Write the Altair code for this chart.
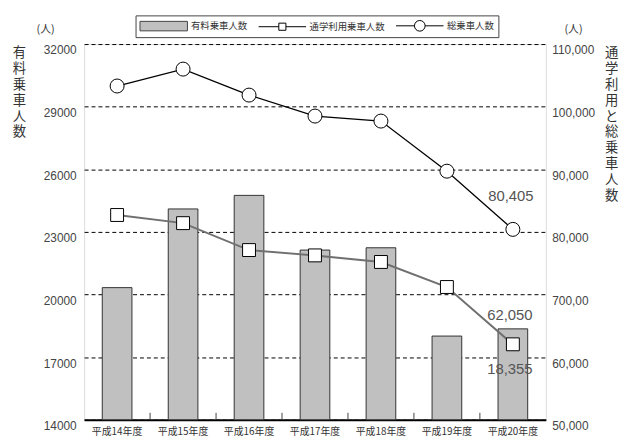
import altair as alt
import pandas as pd

# ---- data ----
years = ['平成14年度', '平成15年度', '平成16年度', '平成17年度', '平成18年度', '平成19年度', '平成20年度']
paid = [20330, 24100, 24750, 22130, 22240, 18010, 18355]          # 有料乗車人数 (left axis)
school = [82700, 81400, 77100, 76250, 75200, 71200, 62050]        # 通学利用乗車人数 (right axis)
total = [103300, 106000, 101850, 98500, 97700, 89700, 80405]      # 総乗車人数 (right axis)
series_names = ['有料乗車人数', '通学利用乗車人数', '総乗車人数']
left_ticks = [14000, 17000, 20000, 23000, 26000, 29000, 32000]
right_ticks = [50000, 60000, 70000, 80000, 90000, 100000, 110000]
left_title = '有料乗車人数'
right_title = '通学利用と総乗車人数'
unit_label = '(人)'

W, H = 467, 380
CJK = 'Noto Sans CJK JP'
NUM = 'Liberation Sans Narrow, Liberation Sans, sans-serif'

df = pd.DataFrame({'year': years, 'paid': paid, 'school': school, 'total': total})
last_df = df.tail(1)
tick_df = pd.DataFrame({'year': years[1:]})
unit_df = pd.DataFrame({'t': [unit_label]})
legend_df = pd.DataFrame({'series': series_names})

xscale = alt.Scale(domain=years, paddingInner=0, paddingOuter=0)
x_axis = alt.Axis(title=None, labelFont=CJK, labelFontSize=10, labelColor='#333',
                  labelPadding=7, ticks=False, domainColor='black', domainWidth=2,
                  labelAngle=0)
X = alt.X('year:N', scale=xscale, axis=x_axis, sort=years)

left_scale = alt.Scale(domain=[14000, 32000], nice=False, zero=False, clamp=True)
right_scale = alt.Scale(domain=[50000, 110000], nice=False, zero=False)

left_axis = alt.Axis(title=list(left_title), titleAngle=0, titleFont=CJK, titleFontSize=13.5,
                     titleFontWeight='normal', titleColor='#333', titleX=-66, titleY=2,
                     titleAlign='center', titleBaseline='top', titleLineHeight=16,
                     values=left_ticks, format='d', labelFont=NUM, labelFontSize=12,
                     labelColor='#444', labelPadding=8, labelOffset=6, ticks=False,
                     domain=False, grid=True, gridDash=[4, 3], gridColor='black',
                     gridWidth=1, labelOverlap=False)
right_axis = alt.Axis(orient='right', title=list(right_title), titleAngle=0, titleFont=CJK,
                      titleFontSize=13.5, titleFontWeight='normal', titleColor='#333',
                      titleX=66, titleY=2, titleAlign='center', titleBaseline='top',
                      titleLineHeight=16, values=right_ticks,
                      labelExpr="datum.value == 70000 ? '700,00' : format(datum.value, ',')",
                      labelFont=NUM, labelFontSize=12, labelColor='#444', labelPadding=6,
                      labelOffset=6, ticks=False, domain=False, grid=False,
                      labelOverlap=False)

base = alt.Chart(df)

bars = base.mark_bar(width=30, fill='#c0c0c0', stroke='#333', strokeWidth=1).encode(
    x=X, y=alt.Y('paid:Q', scale=left_scale, axis=left_axis))

paid_text = alt.Chart(last_df).mark_text(font=NUM, fontSize=15, color='#555', dx=-3, dy=41).encode(
    x=X, y=alt.Y('paid:Q', scale=left_scale, axis=left_axis),
    text=alt.Text('paid:Q', format=','))

band_ticks = alt.Chart(tick_df).mark_rule(color='#444', strokeWidth=1).encode(
    x=alt.X('year:N', scale=xscale, axis=x_axis, sort=years, bandPosition=0),
    y=alt.value(H - 7), y2=alt.value(H))

unit_left = alt.Chart(unit_df).mark_text(font=CJK, fontSize=11, color='#333').encode(
    x=alt.value(-39), y=alt.value(-14), text='t:N')
unit_right = alt.Chart(unit_df).mark_text(font=CJK, fontSize=11, color='#333').encode(
    x=alt.value(495), y=alt.value(-14), text='t:N')

sym_paths = [
    'M-1,-0.8 H7 V0.8 H-1 Z',
    'M-1,0 H2.4 M3.6,0 H7 M2.4,-0.6 H3.6 V0.6 H2.4 Z',
    'M-1,0 H2.1 M3.9,0 H7 M2.1,0 A0.9,0.9 0 1,0 3.9,0 A0.9,0.9 0 1,0 2.1,0 Z',
]
leg = alt.Legend(title=None, orient='none', legendX=52, legendY=-29, direction='horizontal',
                 strokeColor='#444', fillColor='white', padding=4, symbolSize=144,
                 symbolStrokeWidth=1, symbolOpacity=1, labelFont=CJK,
                 labelFontSize=9.5, labelColor='#333', labelOffset=39, columnPadding=8)
legend_layer = alt.Chart(legend_df).mark_point(filled=True, strokeWidth=1, opacity=1).encode(
    shape=alt.Shape('series:N', scale=alt.Scale(domain=series_names, range=sym_paths), legend=leg),
    fill=alt.Fill('series:N', scale=alt.Scale(domain=series_names,
                                              range=['#c0c0c0', 'white', 'white']), legend=leg),
    stroke=alt.Stroke('series:N', scale=alt.Scale(domain=series_names,
                                                  range=['#444444', '#000000', '#000000']), legend=leg),
).transform_filter('false')

left_layer = alt.layer(bars, paid_text, band_ticks, unit_left, unit_right, legend_layer)

school_line = base.mark_line(color='#707070', strokeWidth=2).encode(
    x=X, y=alt.Y('school:Q', scale=right_scale, axis=right_axis))
school_pts = base.mark_point(shape='square', filled=True, fill='white', stroke='black',
                             strokeWidth=1, size=170, opacity=1).encode(
    x=X, y=alt.Y('school:Q', scale=right_scale, axis=right_axis))
total_line = base.mark_line(color='black', strokeWidth=1.3).encode(
    x=X, y=alt.Y('total:Q', scale=right_scale, axis=right_axis))
total_pts = base.mark_point(shape='circle', filled=True, fill='white', stroke='black',
                            strokeWidth=1, size=200, opacity=1).encode(
    x=X, y=alt.Y('total:Q', scale=right_scale, axis=right_axis))
school_text = alt.Chart(last_df).mark_text(font=NUM, fontSize=15, color='#555', dx=-3, dy=-30).encode(
    x=X, y=alt.Y('school:Q', scale=right_scale, axis=right_axis),
    text=alt.Text('school:Q', format=','))
total_text = alt.Chart(last_df).mark_text(font=NUM, fontSize=15, color='#555', dx=-2, dy=-34).encode(
    x=X, y=alt.Y('total:Q', scale=right_scale, axis=right_axis),
    text=alt.Text('total:Q', format=','))

right_layer = alt.layer(school_line, total_line, school_pts, total_pts, school_text, total_text)

chart = alt.layer(left_layer, right_layer).resolve_scale(y='independent').properties(
    width=W, height=H,
    autosize=alt.AutoSizeParams(type='none'),
    padding={'left': 77, 'top': 34, 'right': 75, 'bottom': 18},
).configure_view(stroke='#333', strokeWidth=1).configure(background='white')

chart.save('out.html', embed_options={'renderer': 'svg', 'actions': False})
